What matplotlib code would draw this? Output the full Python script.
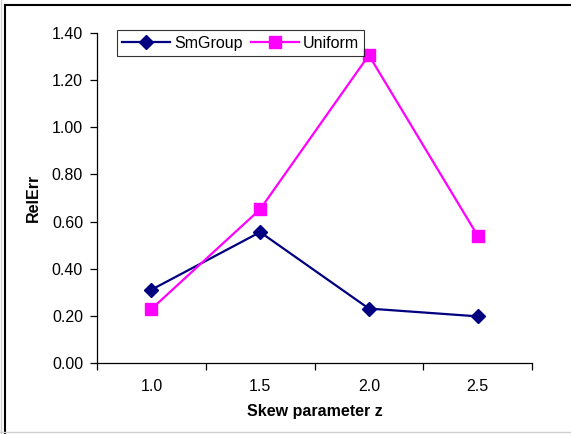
import matplotlib
matplotlib.use("Agg")
import matplotlib.pyplot as plt
from matplotlib.lines import Line2D

categories = ["1.0", "1.5", "2.0", "2.5"]
smgroup = [0.31, 0.555, 0.23, 0.197]
uniform = [0.228, 0.652, 1.307, 0.54]
yticks = [0.0, 0.2, 0.4, 0.6, 0.8, 1.0, 1.2, 1.4]

plt.rcParams['font.family'] = ['Liberation Sans', 'DejaVu Sans']
FS = 11.5

W, H = 571, 434
fig = plt.figure(figsize=(W / 100, H / 100), dpi=100)

# axes box in pixel coordinates
left, right, top, bottom = 97, 532, 33.3, 362.7
ax = fig.add_axes([left / W, 1 - bottom / H, (right - left) / W, (bottom - top) / H])

x = list(range(len(categories)))
ax.plot(x, smgroup, color='#000080', lw=1.6, marker='D', ms=7.5,
        mfc='#000080', mec='#000080', label='SmGroup', clip_on=False, zorder=3)
ax.plot(x, uniform, color='#FF00FF', lw=1.6, marker='s', ms=8.5,
        mfc='#FF00FF', mec='#FF00FF', label='Uniform', clip_on=False, zorder=3)

ax.set_xlim(-0.5, len(categories) - 0.5)
ax.set_ylim(0, 1.4)
ax.set_yticks(yticks)
ax.set_yticklabels([f"{v:.2f}" for v in yticks], fontsize=FS)
ax.set_xticks(x)
ax.set_xticklabels(categories, fontsize=FS)
ax.tick_params(axis='x', which='major', length=0, pad=12)
ax.set_xticks([i - 0.5 for i in range(len(categories) + 1)], minor=True)
ax.tick_params(axis='x', which='minor', length=5, width=0.9, direction='out')
ax.tick_params(axis='y', length=5, width=0.9, direction='out', pad=5)

for s in ['top', 'right']:
    ax.spines[s].set_visible(False)
for s in ['left', 'bottom']:
    ax.spines[s].set_linewidth(0.9)

ax.set_xlabel("Skew parameter z", fontsize=FS, fontweight='bold', labelpad=7)
ax.set_ylabel("RelErr", fontsize=FS, fontweight='bold', labelpad=8)

leg = ax.legend(loc='upper left', bbox_to_anchor=((116.7 - left) / (right - left), 1 + (top - 30.3) / (bottom - top)),
                ncol=2, fontsize=FS, frameon=True, fancybox=False, edgecolor='black',
                borderpad=0.35, handlelength=3.0, handletextpad=0.25, columnspacing=0.5,
                borderaxespad=0)
leg.get_frame().set_linewidth(0.8)

# chart area frame
fig.add_artist(Line2D([4.5 / W, 1], [1 - 4.5 / H] * 2, color='black', lw=1.5, transform=fig.transFigure))
fig.add_artist(Line2D([4.5 / W] * 2, [1 - 4.5 / H, 0], color='black', lw=1.5, transform=fig.transFigure))
fig.add_artist(Line2D([0, 1], [1 - 432.3 / H] * 2, color='#d0d0d0', lw=1.0, transform=fig.transFigure))
fig.add_artist(Line2D([1 / W] * 2, [0, 1], color='#d0d0d0', lw=1.0, transform=fig.transFigure))

fig.savefig("out.png", dpi=100)
